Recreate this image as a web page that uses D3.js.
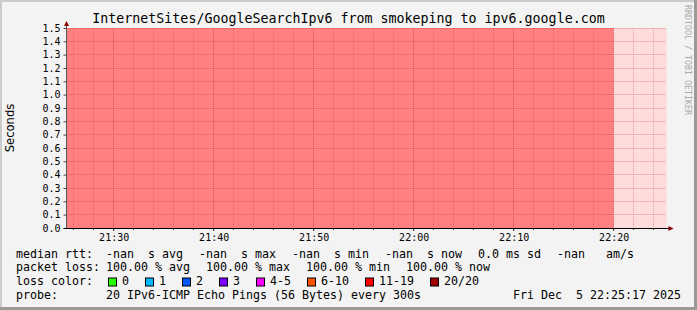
<!DOCTYPE html>
<html>
<head>
<meta charset="utf-8">
<script src="https://cdn.jsdelivr.net/npm/d3@7"></script>
<style>
  body { margin: 0; background: #f3f3f3; }
  svg text { font-family: "DejaVu Sans Mono", monospace; white-space: pre; fill: #000; }
</style>
</head>
<body>
<div id="chart"></div>
<script>
// chart data
const title = "InternetSites/GoogleSearchIpv6 from smokeping to ipv6.google.com";
const yTitle = "Seconds";
const sideNote = "RRDTOOL / TOBI OETIKER";
const windowStart = [2025, 11, 5, 21, 25, 17];
const windowEnd = [2025, 11, 5, 22, 25, 17];
const sampleTimes = ["21:30", "21:35", "21:40", "21:45", "21:50", "21:55",
                     "22:00", "22:05", "22:10", "22:15", "22:20"];
const lostPings = [20, 20, 20, 20, 20, 20, 20, 20, 20, 20, 20];
const pingsPerSample = 20;
const yTicks = [0.0, 0.1, 0.2, 0.3, 0.4, 0.5, 0.6, 0.7, 0.8, 0.9, 1.0, 1.1, 1.2, 1.3, 1.4, 1.5];
const xTickLabels = ["21:30", "21:40", "21:50", "22:00", "22:10", "22:20"];
const medianRow = ["median rtt:", "-nan  s avg", "-nan  s max", "-nan  s min", "-nan  s now", "0.0 ms sd", "-nan   am/s"];
const lossRow = ["packet loss:", "100.00 % avg", "100.00 % max", "100.00 % min", "100.00 % now"];
const lossColorLabel = "loss color:";
const lossBuckets = ["0", "1", "2", "3", "4-5", "6-10", "11-19", "20/20"];
const lossColors = ["#26ff00", "#00b8ff", "#0059ff", "#7e00ff", "#ff00ff", "#ff5500", "#ff0000", "#a00000"];
const probeRow = ["probe:", "20 IPv6-ICMP Echo Pings (56 Bytes) every 300s"];
const stamp = "Fri Dec  5 22:25:17 2025";

const W = 697, H = 310;
const plotL = 66.5, plotR = 666.5, plotT = 28, plotB = 228;
const cw = 7.0; // legend char width

const svg = d3.select("#chart").append("svg")
  .attr("width", W).attr("height", H)
  .style("display", "block");

// frame
svg.append("rect").attr("width", W).attr("height", H).attr("fill", "#f3f3f3");
svg.append("rect").attr("x", 0).attr("y", 0).attr("width", W).attr("height", 2).attr("fill", "#cbcbcb");
svg.append("rect").attr("x", 0).attr("y", 0).attr("width", 2).attr("height", H).attr("fill", "#cbcbcb");
svg.append("rect").attr("x", W - 3).attr("y", 0).attr("width", 3).attr("height", H).attr("fill", "#999");
svg.append("rect").attr("x", 0).attr("y", H - 3).attr("width", W).attr("height", 3).attr("fill", "#999");

const t0 = new Date(...windowStart), t1 = new Date(...windowEnd);
const x = d3.scaleTime().domain([t0, t1]).range([plotL, plotR]);
const y = d3.scaleLinear().domain([0, 1.5]).range([plotB, plotT]);
const crisp = v => Math.floor(v) + 0.5;

const toDate = s => {
  const [h, m] = s.split(":").map(Number);
  return new Date(2025, 11, 5, h, m, 0);
};

// canvas (unknown period shade)
svg.append("rect")
  .attr("x", x(t0)).attr("y", y(1.5))
  .attr("width", x(t1) - x(t0)).attr("height", y(0) - y(1.5))
  .attr("fill", "#ffdcdc");

// loss area, step per sample
const samples = sampleTimes.map((s, i) => ({ t: toDate(s), loss: lostPings[i] }));
const pts = [{ t: new Date(samples[0].t - 300000), loss: samples[0].loss }].concat(samples);
svg.append("defs").append("clipPath").attr("id", "plot")
  .append("rect").attr("x", x(t0)).attr("y", y(1.5))
  .attr("width", x(t1) - x(t0)).attr("height", y(0) - y(1.5));
svg.append("path")
  .datum(pts)
  .attr("clip-path", "url(#plot)")
  .attr("fill", "#ff8080")
  .attr("d", d3.area()
    .curve(d3.curveStepBefore)
    .x(d => x(d.t))
    .y0(y(0))
    .y1(d => y(d.loss / pingsPerSample * 1.5)));

// grid
const minorTimes = x.ticks(d3.timeMinute.every(2));
const majorTimes = xTickLabels.map(toDate);
svg.append("g").selectAll("line").data(minorTimes).join("line")
  .attr("x1", d => crisp(x(d))).attr("x2", d => crisp(x(d)))
  .attr("y1", y(1.5)).attr("y2", y(0))
  .attr("stroke", "rgba(200,50,50,0.38)").attr("stroke-dasharray", "1,1");
svg.append("g").selectAll("line").data(majorTimes).join("line")
  .attr("x1", d => crisp(x(d))).attr("x2", d => crisp(x(d)))
  .attr("y1", y(1.5)).attr("y2", y(0))
  .attr("stroke", "rgba(200,40,40,0.42)").attr("stroke-dasharray", "1,1");
svg.append("g").selectAll("line").data(yTicks.slice(1)).join("line")
  .attr("x1", x(t0)).attr("x2", x(t1))
  .attr("y1", d => crisp(y(d))).attr("y2", d => crisp(y(d)))
  .attr("stroke", "rgba(200,40,40,0.42)").attr("stroke-dasharray", "1,1");

// axes
const yAxis = d3.axisLeft(y).tickValues(yTicks).tickFormat(d3.format(".1f")).tickSize(3).tickPadding(3);
const gy = svg.append("g").attr("transform", "translate(" + plotL + ",0)").call(yAxis);
gy.select(".domain").remove();
gy.selectAll(".tick line").attr("stroke", "#444");
gy.selectAll("text").style("font-family", "'DejaVu Sans Mono', monospace").style("font-size", "10px").attr("fill", "#000");

const xAxis = d3.axisBottom(x).tickValues(majorTimes).tickFormat(d3.timeFormat("%H:%M")).tickSize(3).tickPadding(3);
const gx = svg.append("g").attr("transform", "translate(0," + plotB + ")").call(xAxis);
gx.select(".domain").remove();
gx.selectAll(".tick line").attr("stroke", "#222").attr("transform", "translate(-0.5,0)");
gx.selectAll("text").style("font-family", "'DejaVu Sans Mono', monospace").style("font-size", "10px").attr("fill", "#000");
svg.append("g").selectAll("line").data(minorTimes).join("line")
  .attr("x1", d => crisp(x(d))).attr("x2", d => crisp(x(d)))
  .attr("y1", plotB).attr("y2", plotB + 2)
  .attr("stroke", "#444");

svg.append("line").attr("x1", plotL).attr("x2", plotL).attr("y1", plotB + 1).attr("y2", plotT - 3)
  .attr("stroke", "#555");
svg.append("line").attr("x1", plotL - 3).attr("x2", plotR + 3).attr("y1", plotB + 0.5).attr("y2", plotB + 0.5)
  .attr("stroke", "#000");
svg.append("path").attr("d", `M${plotL - 2.5},${plotT - 2}L${plotL + 2.5},${plotT - 2}L${plotL},${plotT - 7}Z`).attr("fill", "#8b0000");
svg.append("path").attr("d", `M${plotR + 2},${plotB - 2}L${plotR + 2},${plotB + 3}L${plotR + 7},${plotB + 0.5}Z`).attr("fill", "#8b0000");

// titles
svg.append("text").attr("x", W / 2).attr("y", 23).attr("text-anchor", "middle")
  .style("font-size", "13.3px").text(title);
svg.append("text").attr("transform", "translate(14,128) rotate(-90)").attr("text-anchor", "middle")
  .style("font-family", "'DejaVu Sans', sans-serif").style("font-size", "11.6px").text(yTitle);
svg.append("text").attr("transform", "translate(685,5) rotate(90)")
  .style("font-size", "8.3px").style("fill", "#aaa").text(sideNote);

// legend
const lx = 16, vx = 106, gap = 16;
const rowY = [257.5, 271.3, 285, 298.8];
const legend = svg.append("g").style("font-size", "11.63px");

function textRow(items, yy) {
  legend.append("text").attr("x", lx).attr("y", yy).text(items[0]);
  let px = vx;
  items.slice(1).forEach(s => {
    legend.append("text").attr("x", px).attr("y", yy).text(s);
    px += s.length * cw + gap;
  });
}
textRow(medianRow, rowY[0]);
textRow(lossRow, rowY[1]);

legend.append("text").attr("x", lx).attr("y", rowY[2]).text(lossColorLabel);
let bx = vx;
lossBuckets.forEach((b, i) => {
  legend.append("rect").attr("x", bx + 2.5).attr("y", rowY[2] - 7).attr("width", 8).attr("height", 8)
    .attr("fill", lossColors[i]).attr("stroke", "#000");
  legend.append("text").attr("x", bx + 16).attr("y", rowY[2]).text(b);
  bx += 16 + b.length * cw + 14;
});

textRow(probeRow, rowY[3]);
legend.append("text").attr("x", 681).attr("y", rowY[3]).attr("text-anchor", "end").text(stamp);
</script>
</body>
</html>
